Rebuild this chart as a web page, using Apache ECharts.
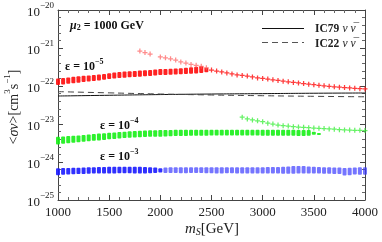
<!DOCTYPE html>
<html><head><meta charset="utf-8">
<script src="https://cdn.jsdelivr.net/npm/echarts@6/dist/echarts.min.js"></script>
<style>html,body{margin:0;padding:0;background:#fff}#c{width:382px;height:242px}</style>
</head><body><div id="c"></div>
<script>
// ---- data ----
const xTicks = [1000, 1500, 2000, 2500, 3000, 3500, 4000];
const yTickExps = [-25, -24, -23, -22, -21, -20];

// eps = 1e-5 : dense band (low/high per column)
const redBandX = [1000,1050,1100,1150,1200,1250,1300,1350,1400,1450,1500,1550,1600,1650,1700,1750,1800,1850,1900,1950,2000,2050,2100,2150,2200,2250,2300,2350,2400,2450];
const redBandLow = [1.06e-22,1.10e-22,1.14e-22,1.18e-22,1.22e-22,1.27e-22,1.31e-22,1.35e-22,1.40e-22,1.45e-22,1.52e-22,1.58e-22,1.62e-22,1.66e-22,1.70e-22,1.73e-22,1.76e-22,1.80e-22,1.84e-22,1.88e-22,1.94e-22,1.96e-22,1.98e-22,2.00e-22,2.04e-22,2.08e-22,2.10e-22,2.14e-22,2.20e-22,2.30e-22];
const redBandHigh = [1.58e-22,1.62e-22,1.68e-22,1.74e-22,1.80e-22,1.85e-22,1.90e-22,1.95e-22,2.00e-22,2.08e-22,2.18e-22,2.28e-22,2.34e-22,2.40e-22,2.45e-22,2.50e-22,2.55e-22,2.60e-22,2.65e-22,2.70e-22,2.80e-22,2.82e-22,2.86e-22,2.90e-22,2.95e-22,3.00e-22,3.10e-22,3.20e-22,3.30e-22,3.00e-22];
// eps = 1e-5 : single points, falling tail
const redTailX = [2500,2550,2600,2650,2700,2750,2800,2850,2900,2950,3000,3050,3100,3150,3200,3250,3300,3350,3400,3450,3500,3550,3600,3650,3700,3750,3800,3850,3900,3950,4000];
const redTailY = [2.63e-22,2.48e-22,2.35e-22,2.20e-22,2.07e-22,1.95e-22,1.90e-22,1.83e-22,1.73e-22,1.63e-22,1.58e-22,1.52e-22,1.46e-22,1.40e-22,1.34e-22,1.29e-22,1.24e-22,1.20e-22,1.16e-22,1.12e-22,1.08e-22,1.04e-22,1.01e-22,0.98e-22,0.95e-22,0.93e-22,0.91e-22,0.89e-22,0.87e-22,0.85e-22,0.84e-22];
// eps = 1e-5 : upper branch
const redUpX = [1800,1850,1900,2000,2050,2100,2150,2200,2250,2300,2350,2400,2450];
const redUpY = [8.3e-22,7.6e-22,6.9e-22,5.8e-22,5.5e-22,5.2e-22,4.8e-22,4.3e-22,4.0e-22,3.7e-22,3.5e-22,3.3e-22,3.0e-22];

// eps = 1e-4 : dense band
const greenBandX = [1000,1050,1100,1150,1200,1250,1300,1350,1400,1450,1500,1550,1600,1650,1700,1750,1800,1850,1900,1950,2000,2050,2100,2150,2200,2250,2300,2350,2400,2450,2500,2550,2600,2650,2700,2750,2800,2850,2900,2950,3000,3050,3100,3150,3200,3250,3300,3350,3400,3450,3500,3550];
const greenBandLow = [2.9e-24,3.0e-24,3.1e-24,3.2e-24,3.3e-24,3.4e-24,3.5e-24,3.6e-24,3.7e-24,3.8e-24,3.95e-24,4.05e-24,4.15e-24,4.25e-24,4.35e-24,4.4e-24,4.5e-24,4.55e-24,4.6e-24,4.65e-24,4.65e-24,4.7e-24,4.75e-24,4.8e-24,4.85e-24,4.85e-24,4.9e-24,4.9e-24,4.9e-24,4.9e-24,4.95e-24,4.95e-24,4.95e-24,4.95e-24,4.95e-24,4.95e-24,4.95e-24,4.95e-24,4.95e-24,4.95e-24,4.9e-24,4.9e-24,4.9e-24,4.9e-24,4.9e-24,4.9e-24,4.9e-24,4.85e-24,4.85e-24,4.9e-24,5.2e-24,5.4e-24];
const greenBandHigh = [4.6e-24,4.7e-24,4.8e-24,4.9e-24,5.0e-24,5.15e-24,5.3e-24,5.45e-24,5.6e-24,5.75e-24,5.9e-24,6.0e-24,6.15e-24,6.3e-24,6.4e-24,6.5e-24,6.6e-24,6.7e-24,6.8e-24,6.85e-24,6.95e-24,7.0e-24,7.0e-24,7.05e-24,7.05e-24,7.05e-24,7.1e-24,7.1e-24,7.1e-24,7.1e-24,7.1e-24,7.1e-24,7.1e-24,7.1e-24,7.1e-24,7.1e-24,7.1e-24,7.1e-24,7.1e-24,7.1e-24,7.1e-24,7.1e-24,7.1e-24,7.1e-24,7.1e-24,7.1e-24,7.05e-24,7.0e-24,7.0e-24,6.9e-24,6.3e-24,5.8e-24];
// eps = 1e-4 : upper branch
const greenUpX = [2800,2850,2900,2950,3000,3050,3100,3150,3200,3250,3300,3350,3400,3450,3500,3550,3600,3650,3700,3750,3800,3850,3900,3950,4000];
const greenUpY = [1.51e-23,1.36e-23,1.28e-23,1.21e-23,1.15e-23,1.05e-23,1.00e-23,9.4e-24,9.0e-24,8.8e-24,8.5e-24,8.3e-24,8.2e-24,8.0e-24,7.8e-24,7.7e-24,7.6e-24,7.4e-24,7.3e-24,7.1e-24,7.0e-24,6.9e-24,6.8e-24,6.8e-24,6.7e-24];

// eps = 1e-3 : band
const blueBandX = [1000,1050,1100,1150,1200,1250,1300,1350,1400,1450,1500,1550,1600,1650,1700,1750,1800,1850,1900,1950,2000,2050,2100,2150,2200,2250,2300,2350,2400,2450,2500,2550,2600,2650,2700,2750,2800,2850,2900,2950,3000,3050,3100,3150,3200,3250,3300,3350,3400,3450,3500,3550,3600,3650,3700,3750,3800,3850,3900,3950,4000];
const blueBandLow = [4.5e-25,4.6e-25,4.7e-25,4.75e-25,4.8e-25,4.85e-25,4.9e-25,4.95e-25,5.0e-25,5.0e-25,5.0e-25,5.0e-25,5.05e-25,5.05e-25,5.05e-25,5.0e-25,5.0e-25,5.0e-25,5.05e-25,5.1e-25,5.3e-25,5.1e-25,5.1e-25,5.1e-25,5.05e-25,5.05e-25,5.1e-25,5.1e-25,5.1e-25,5.05e-25,5.05e-25,5.0e-25,5.0e-25,5.05e-25,5.05e-25,5.0e-25,5.0e-25,5.0e-25,5.0e-25,5.0e-25,5.0e-25,5.0e-25,4.95e-25,4.95e-25,4.9e-25,4.9e-25,4.9e-25,4.95e-25,4.95e-25,5.0e-25,4.95e-25,4.95e-25,4.9e-25,4.9e-25,4.85e-25,4.8e-25,4.4e-25,4.5e-25,4.7e-25,4.6e-25,4.6e-25];
const blueBandHigh = [6.8e-25,6.9e-25,7.0e-25,7.05e-25,7.1e-25,7.2e-25,7.25e-25,7.3e-25,7.35e-25,7.4e-25,7.45e-25,7.5e-25,7.5e-25,7.5e-25,7.5e-25,7.45e-25,7.45e-25,7.4e-25,7.3e-25,7.2e-25,6.8e-25,7.2e-25,7.3e-25,7.3e-25,7.3e-25,7.3e-25,7.3e-25,7.3e-25,7.3e-25,7.3e-25,7.3e-25,7.3e-25,7.3e-25,7.3e-25,7.3e-25,7.3e-25,7.3e-25,7.3e-25,7.3e-25,7.3e-25,7.3e-25,7.35e-25,7.4e-25,7.4e-25,7.5e-25,7.6e-25,7.8e-25,7.9e-25,7.8e-25,7.6e-25,7.5e-25,7.4e-25,7.3e-25,7.3e-25,7.2e-25,7.2e-25,7.0e-25,7.1e-25,7.2e-25,7.3e-25,7.3e-25];

// IceCube limits
const icX = [1000, 1500, 2000, 2500, 3000, 3500, 4000];
const ic79Y = [5.45e-23, 5.7e-23, 5.95e-23, 6.15e-23, 6.3e-23, 6.45e-23, 6.55e-23];
const ic22Y = [7.1e-23, 6.6e-23, 6.15e-23, 5.8e-23, 5.55e-23, 5.35e-23, 5.2e-23];

// ---- chart ----
// y is plotted on a value axis in log10 units (decades); labels show 10^n
const SERIF = "'Liberation Serif','DejaVu Serif',serif";
const L = Math.log10;
const zip2 = (xs, ys) => xs.map((x, i) => [x, L(ys[i])]);
const zip3 = (xs, lo, hi) => xs.map((x, i) => [x, L(lo[i]), L(hi[i])]);

function bandSeries(data, color, opacity) {
  return {
    type: 'custom', xAxisIndex: 0, yAxisIndex: 0, z: 3,
    data: data,
    encode: { x: 0, y: [1, 2] },
    renderItem: function (params, api) {
      const x = api.value(0);
      const pl = api.coord([x, api.value(1)]);
      const ph = api.coord([x, api.value(2)]);
      const w = 4;
      return {
        type: 'rect',
        shape: { x: pl[0] - w / 2, y: ph[1], width: w, height: Math.max(2, pl[1] - ph[1]), r: 1 },
        style: { fill: color, opacity: opacity }
      };
    }
  };
}
const plus = 'path://M3,0h2v3h3v2h-3v3h-2v-3h-3v-2h3z';
function pointSeries(data, color, opacity, size) {
  return {
    type: 'scatter', xAxisIndex: 0, yAxisIndex: 0, z: 3,
    data: data, symbol: plus, symbolSize: size,
    itemStyle: { color: color, opacity: opacity },
    silent: true
  };
}

const supRich = {
  b: { fontSize: 13, fontFamily: SERIF, color: '#222', lineHeight: 18, verticalAlign: 'bottom' },
  s: { fontSize: 9, fontFamily: SERIF, color: '#222', lineHeight: 10, verticalAlign: 'top' }
};

function axisCommon() {
  return {
    axisLine: { show: true, onZero: false, lineStyle: { color: '#444', width: 1 } },
    axisTick: { show: true, inside: true, length: 5, lineStyle: { color: '#444' } },
    minorTick: { show: true, splitNumber: 5, length: 3, lineStyle: { color: '#666' } },
    splitLine: { show: false }
  };
}

const legendRich = {
  t: { fontSize: 11.5, fontWeight: 'bold', fontFamily: SERIF, fill: '#222' },
  n: { fontSize: 11.5, fontStyle: 'italic', fontFamily: SERIF, fill: '#222' }
};

const yMin = yTickExps[0], yMax = yTickExps[yTickExps.length - 1];
const chart = echarts.init(document.getElementById('c'), null, { renderer: 'canvas' });
chart.setOption({
  animation: false,
  backgroundColor: '#fff',
  grid: { left: 58, right: 17, top: 10, bottom: 42, outerBoundsMode: 'none' },
  xAxis: [
    Object.assign({ type: 'value', min: xTicks[0], max: xTicks[xTicks.length - 1], interval: 500, position: 'bottom',
      axisLabel: { fontSize: 13, fontFamily: SERIF, color: '#222', margin: 6, formatter: function (v) { return String(v); } } }, axisCommon()),
    Object.assign({ type: 'value', min: xTicks[0], max: xTicks[xTicks.length - 1], interval: 500, position: 'top',
      axisLabel: { show: false } }, axisCommon())
  ],
  yAxis: [
    Object.assign({ type: 'value', min: yMin, max: yMax, interval: 1, position: 'left',
      axisLabel: { margin: 4, formatter: function (v) { return '{b|10}{s|\u2212' + Math.abs(Math.round(v)) + '}'; }, rich: supRich } }, axisCommon()),
    Object.assign({ type: 'value', min: yMin, max: yMax, interval: 1, position: 'right', axisLabel: { show: false } }, axisCommon())
  ],
  series: [
    { name: 'IC79', type: 'line', data: zip2(icX, ic79Y), showSymbol: false, symbol: 'none', smooth: true, z: 2,
      lineStyle: { color: '#111', width: 1 }, itemStyle: { color: '#111' } },
    { name: 'IC22', type: 'line', data: zip2(icX, ic22Y), showSymbol: false, symbol: 'none', smooth: true, z: 2,
      lineStyle: { color: '#444', width: 1, type: [6, 4] }, itemStyle: { color: '#444' } },
    bandSeries(zip3(redBandX, redBandLow, redBandHigh), '#ff0a0a', 0.9),
    pointSeries(zip2(redTailX, redTailY), '#ff1a1a', 0.85, 5),
    pointSeries(zip2(redUpX, redUpY), '#ff5a5a', 0.7, 5),
    bandSeries(zip3(greenBandX, greenBandLow, greenBandHigh), '#16f016', 0.9),
    pointSeries(zip2(greenUpX, greenUpY), '#33ee33', 0.75, 5),
    bandSeries(zip3(blueBandX, blueBandLow, blueBandHigh).filter(d => d[0] <= 2000), '#1a1aff', 0.9),
    bandSeries(zip3(blueBandX, blueBandLow, blueBandHigh).filter(d => d[0] > 2000), '#3a3aff', 0.7)
  ],
  graphic: [
    // legend (key) drawn as plain graphics
    { type: 'line', shape: { x1: 262, y1: 28.5, x2: 304, y2: 28.5 }, style: { stroke: '#111', lineWidth: 1 }, z: 10 },
    { type: 'line', shape: { x1: 262, y1: 42.5, x2: 304, y2: 42.5 }, style: { stroke: '#555', lineWidth: 1, lineDash: [6, 4] }, z: 10 },
    { type: 'text', x: 315, y: 29, z: 10, style: { text: '{t|IC79} {n|\u03bd \u03bd\u0305}', verticalAlign: 'middle', rich: legendRich } },
    { type: 'text', x: 315, y: 44, z: 10, style: { text: '{t|IC22} {n|\u03bd \u03bd\u0305}', verticalAlign: 'middle', rich: legendRich } },

    { type: 'text', left: 70, top: 20, z: 10,
      style: { text: '{m|\u03bc}{s|2}{t| = 1000 GeV}', rich: {
        m: { fontSize: 12, fontWeight: 'bold', fontStyle: 'italic', fontFamily: SERIF, fill: '#111', verticalAlign: 'bottom', lineHeight: 14 },
        s: { fontSize: 8, fontWeight: 'bold', fontFamily: SERIF, fill: '#111', verticalAlign: 'bottom', lineHeight: 12 },
        t: { fontSize: 12, fontWeight: 'bold', fontFamily: SERIF, fill: '#111', verticalAlign: 'bottom', lineHeight: 14 } } } },
    { type: 'text', left: 65, top: 58, z: 10,
      style: { text: '{t|\u03b5 = 10}{s|\u22125}', rich: {
        t: { fontSize: 12, fontWeight: 'bold', fontFamily: SERIF, fill: '#111', verticalAlign: 'bottom', lineHeight: 15 },
        s: { fontSize: 8, fontWeight: 'bold', fontFamily: SERIF, fill: '#111', verticalAlign: 'top', lineHeight: 9 } } } },
    { type: 'text', left: 100, top: 117, z: 10,
      style: { text: '{t|\u03b5 = 10}{s|\u22124}', rich: {
        t: { fontSize: 12, fontWeight: 'bold', fontFamily: SERIF, fill: '#111', verticalAlign: 'bottom', lineHeight: 15 },
        s: { fontSize: 8, fontWeight: 'bold', fontFamily: SERIF, fill: '#111', verticalAlign: 'top', lineHeight: 9 } } } },
    { type: 'text', left: 100, top: 148, z: 10,
      style: { text: '{t|\u03b5 = 10}{s|\u22123}', rich: {
        t: { fontSize: 12, fontWeight: 'bold', fontFamily: SERIF, fill: '#111', verticalAlign: 'bottom', lineHeight: 15 },
        s: { fontSize: 8, fontWeight: 'bold', fontFamily: SERIF, fill: '#111', verticalAlign: 'top', lineHeight: 9 } } } },
    { type: 'text', x: 212, y: 228, z: 10,
      style: { text: '{i|m}{si|S}{r|[GeV]}', align: 'center', verticalAlign: 'middle', rich: {
        i: { fontSize: 15, fontStyle: 'italic', fontFamily: SERIF, fill: '#222', verticalAlign: 'bottom', lineHeight: 18 },
        si: { fontSize: 10, fontStyle: 'italic', fontFamily: SERIF, fill: '#222', verticalAlign: 'bottom', lineHeight: 14 },
        r: { fontSize: 15, fontFamily: SERIF, fill: '#222', verticalAlign: 'bottom', lineHeight: 18 } } } },
    { type: 'text', x: 12, y: 107, rotation: Math.PI / 2, z: 10,
      style: { text: '{r|<}{i|\u03c3v}{r|>[cm}{s|3}{r|s}{s|\u22121}{r|]}', align: 'center', verticalAlign: 'middle', rich: {
        r: { fontSize: 14, fontFamily: SERIF, fill: '#222', verticalAlign: 'bottom', lineHeight: 18 },
        i: { fontSize: 14, fontStyle: 'italic', fontFamily: SERIF, fill: '#222', verticalAlign: 'bottom', lineHeight: 18 },
        s: { fontSize: 9, fontFamily: SERIF, fill: '#222', verticalAlign: 'top', lineHeight: 10 } } } }
  ]
});
</script>
</body></html>
